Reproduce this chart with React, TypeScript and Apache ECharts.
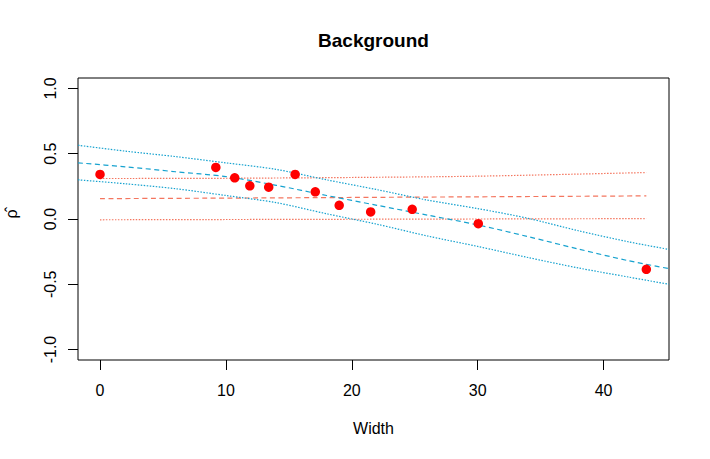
import React, { useEffect, useRef } from "react";
import * as echarts from "echarts";

const X_TICKS = [0, 10, 20, 30, 40];
const Y_TICKS = [-1, -0.5, 0, 0.5, 1];

const PX = [0, 9.2, 10.7, 11.9, 13.4, 15.5, 17.1, 19.0, 21.5, 24.8, 30.05, 43.4];
const PY = [0.341, 0.395, 0.315, 0.254, 0.244, 0.341, 0.208, 0.105, 0.054, 0.074, -0.036, -0.385];

const BLUE_X = [-1.75, 2, 6, 10, 14, 18, 22, 26, 30, 34, 38, 42, 45.2];
const BLUE_FIT = [0.43, 0.4, 0.362, 0.325, 0.258, 0.18, 0.105, 0.03, -0.045, -0.135, -0.23, -0.32, -0.38];
const BLUE_UP = [0.565, 0.52, 0.478, 0.43, 0.38, 0.3, 0.225, 0.145, 0.08, 0.005, -0.09, -0.175, -0.233];
const BLUE_LO = [0.3, 0.27, 0.232, 0.18, 0.125, 0.04, -0.04, -0.13, -0.21, -0.295, -0.375, -0.445, -0.5];

const RED_X = [0, 10, 20, 30, 43.4];
const RED_FIT = [0.156, 0.16, 0.165, 0.17, 0.177];
const RED_UP = [0.31, 0.312, 0.318, 0.328, 0.356];
const RED_LO = [-0.006, -0.004, -0.002, 0.0, 0.003];

const BLUE = "#16A2CF";
const RED = "#F4765F";
const FONT = "'Liberation Sans', Arial, Helvetica, sans-serif";

const zip = (xs: number[], ys: number[]) => xs.map((x, i) => [x, ys[i]]);

export default function App() {
  const ref = useRef<HTMLDivElement>(null);
  useEffect(() => {
    if (!ref.current) return;
    const chart = echarts.init(ref.current, null, { renderer: "svg" });
    const line = (xs: number[], ys: number[], color: string, type: any) => ({
      type: "line",
      data: zip(xs, ys),
      showSymbol: false,
      symbol: "none",
      smooth: 0.3,
      lineStyle: { color, width: 1.2, type },
      z: 2,
    });
    chart.setOption({
      animation: false,
      backgroundColor: "#ffffff",
      grid: {
        left: 78,
        right: 41,
        top: 78,
        bottom: 99,
        show: true,
        borderColor: "#000",
        borderWidth: 1,
        backgroundColor: "transparent",
      },
      xAxis: {
        type: "value",
        min: -1.75,
        max: 45.2,
        position: "bottom",
        splitLine: { show: false },
        axisLine: { show: false, onZero: false },
        axisTick: { show: true, length: 10, inside: false, customValues: X_TICKS, lineStyle: { color: "#000" } },
        axisLabel: {
          customValues: X_TICKS,
          margin: 22,
          fontSize: 16,
          fontFamily: FONT,
          color: "#000",
          formatter: (v: number) => String(v),
        },
      },
      yAxis: {
        type: "value",
        min: -1.08,
        max: 1.08,
        position: "left",
        splitLine: { show: false },
        axisLine: { show: false, onZero: false },
        axisTick: { show: true, length: 10, customValues: Y_TICKS, lineStyle: { color: "#000" } },
        axisLabel: {
          customValues: Y_TICKS,
          rotate: 90,
          margin: 20,
          fontSize: 16,
          fontFamily: FONT,
          color: "#000",
          formatter: (v: number) => v.toFixed(1),
        },
      },
      graphic: [
        {
          type: "text",
          x: 373.5,
          y: 40,
          style: {
            text: "Background",
            font: `bold 19px ${FONT}`,
            fill: "#000",
            textAlign: "center",
            textVerticalAlign: "middle",
          },
        },
        {
          type: "text",
          x: 373.5,
          y: 428,
          style: {
            text: "Width",
            font: `16px ${FONT}`,
            fill: "#000",
            textAlign: "center",
            textVerticalAlign: "middle",
          },
        },
        {
          type: "text",
          x: 11,
          y: 214,
          rotation: Math.PI / 2,
          style: {
            text: "ρ\u0302",
            font: `16px ${FONT}`,
            fill: "#000",
            textAlign: "center",
            textVerticalAlign: "middle",
          },
        },
      ],
      series: [
        line(RED_X, RED_LO, RED, [1.5, 1.5]),
        line(RED_X, RED_UP, RED, [1.5, 1.5]),
        line(RED_X, RED_FIT, RED, [5, 3.5]),
        line(BLUE_X, BLUE_LO, BLUE, [1.5, 1.5]),
        line(BLUE_X, BLUE_UP, BLUE, [1.5, 1.5]),
        line(BLUE_X, BLUE_FIT, BLUE, [5, 3.5]),
        {
          type: "scatter",
          data: zip(PX, PY),
          symbol: "circle",
          symbolSize: 9.5,
          itemStyle: { color: "#FF0000", opacity: 1 },
          z: 5,
        },
      ],
    });
    return () => chart.dispose();
  }, []);
  return (
    <div
      ref={ref}
      style={{ position: "fixed", left: 0, top: 0, width: 710, height: 459, background: "#fff" }}
    />
  );
}
